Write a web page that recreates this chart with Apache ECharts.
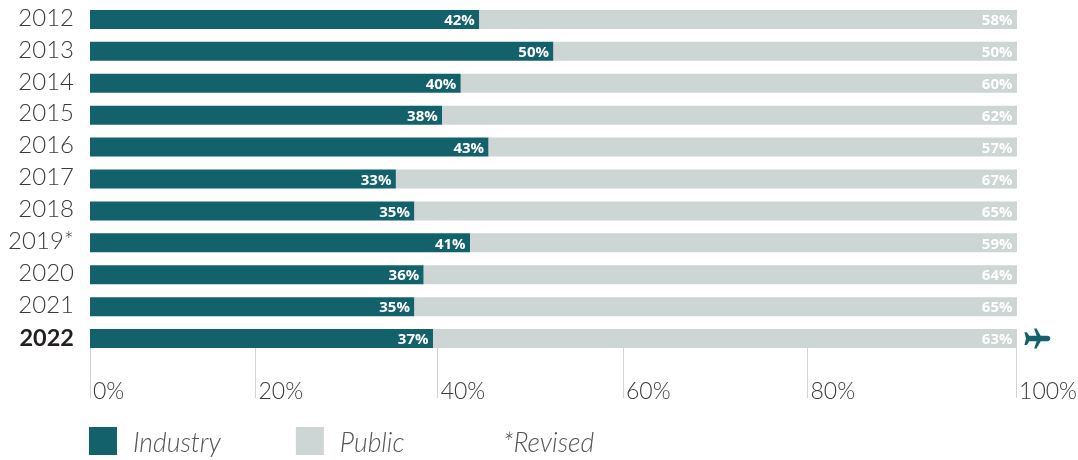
<!DOCTYPE html>
<html>
<head>
<meta charset="utf-8">
<style>html,body{margin:0;padding:0;background:#fff}#chart{width:1078px;height:460px}</style>
<script src="https://cdn.jsdelivr.net/npm/echarts@6/dist/echarts.min.js"></script>
</head>
<body>
<div id="chart"></div>
<script>
// Share of passengers by sector, per year
const years = ['2012','2013','2014','2015','2016','2017','2018','2019*','2020','2021','2022'];
const industry = [42,50,40,38,43,33,35,41,36,35,37];
const publicShare = [58,50,60,62,57,67,65,59,64,65,63];
// The scale strip under the bars has its own uneven tick spacing
const scaleStops = [0,17.85,37.5,57.5,77.4,99.9];
const scaleLabels = ['0%','20%','40%','60%','80%','100%'];

const TEAL = '#13616b';
const GREY = '#cdd6d4';
const INK = '#3a3a3c';
const PLANE = 'path://M14 0 L17 0 L22 8 L30 8 C33 8 34 10 34 11 C34 12 33 14 30 14 L22 14 L17 22 L14 22 L17 14 L8 14 L5 18 L2 18 L4 11 L2 4 L5 4 L8 8 L17 8 Z';

const chart = echarts.init(document.getElementById('chart'));
const valueLabel = {
  show: true, position: 'insideRight', distance: 4.5, offset: [0, 1.5], color: '#fff',
  fontFamily: 'Open Sans', fontWeight: 700, fontSize: 15,
  formatter: p => p.value + '%'
};
chart.setOption({
  animation: false,
  grid: [
    { left: 90, right: 61, top: 3.5, height: 351, outerBoundsMode: 'none' },
    { left: 90, right: 61, top: 348, height: 50, outerBoundsMode: 'none' }
  ],
  xAxis: [
    { gridIndex: 0, type: 'value', min: 0, max: 100, show: false },
    {
      gridIndex: 1, type: 'value', min: 0, max: 100,
      axisLine: { show: false },
      axisTick: { show: false, customValues: scaleStops },
      splitLine: { show: true, showMinLine: true, showMaxLine: true, lineStyle: { color: GREY, width: 1 } },
      axisLabel: {
        inside: true, margin: -5, align: 'left', verticalAlign: 'bottom',
        padding: [0, 0, 0, 3], color: INK, fontFamily: 'Lato', fontWeight: 300, fontSize: 23,
        customValues: scaleStops, hideOverlap: false, alignMinLabel: 'left', alignMaxLabel: 'left',
        formatter: v => scaleLabels[scaleStops.indexOf(v)]
      }
    }
  ],
  yAxis: [
    {
      gridIndex: 0, type: 'category', inverse: true, data: years,
      axisLine: { show: false }, axisTick: { show: false },
      axisLabel: {
        margin: 16,
        formatter: v => v === '2022' ? '{strong|' + v + '}' : '{plain|' + v + '}',
        rich: {
          plain: { fontFamily: 'Lato', fontWeight: 300, fontSize: 24, color: INK, padding: [0, 0, 3, 0] },
          strong: { fontFamily: 'Lato', fontWeight: 700, fontSize: 23.5, color: '#231f20' }
        }
      }
    },
    { gridIndex: 1, type: 'value', show: false }
  ],
  legend: {
    left: 89, top: 427, padding: 0, itemWidth: 28, itemHeight: 28, itemGap: 75, icon: 'rect',
    selectedMode: false,
    formatter: name => '{t|' + name + '}',
    textStyle: {
      padding: [0, 0, 0, 11],
      rich: { t: { color: '#555', fontFamily: 'Lato', fontWeight: 300, fontStyle: 'italic', fontSize: 26.5, padding: [4, 0, 0, 0] } }
    },
    data: ['Industry', 'Public']
  },
  graphic: [
    { type: 'text', left: 503, top: 430, style: { text: '*Revised', fill: '#555', font: 'italic 300 26.5px Lato' } }
  ],
  series: [
    { name: 'Industry', type: 'bar', stack: 'share', barWidth: 19, data: industry, itemStyle: { color: TEAL }, label: valueLabel },
    { name: 'Public', type: 'bar', stack: 'share', barWidth: 19, data: publicShare, itemStyle: { color: GREY }, label: valueLabel },
    {
      name: 'Plane', type: 'scatter', clip: false, silent: true,
      symbol: PLANE, symbolSize: [26, 20], itemStyle: { color: TEAL, opacity: 1 },
      data: [[102.2, '2022']]
    }
  ]
});
</script>
</body>
</html>
